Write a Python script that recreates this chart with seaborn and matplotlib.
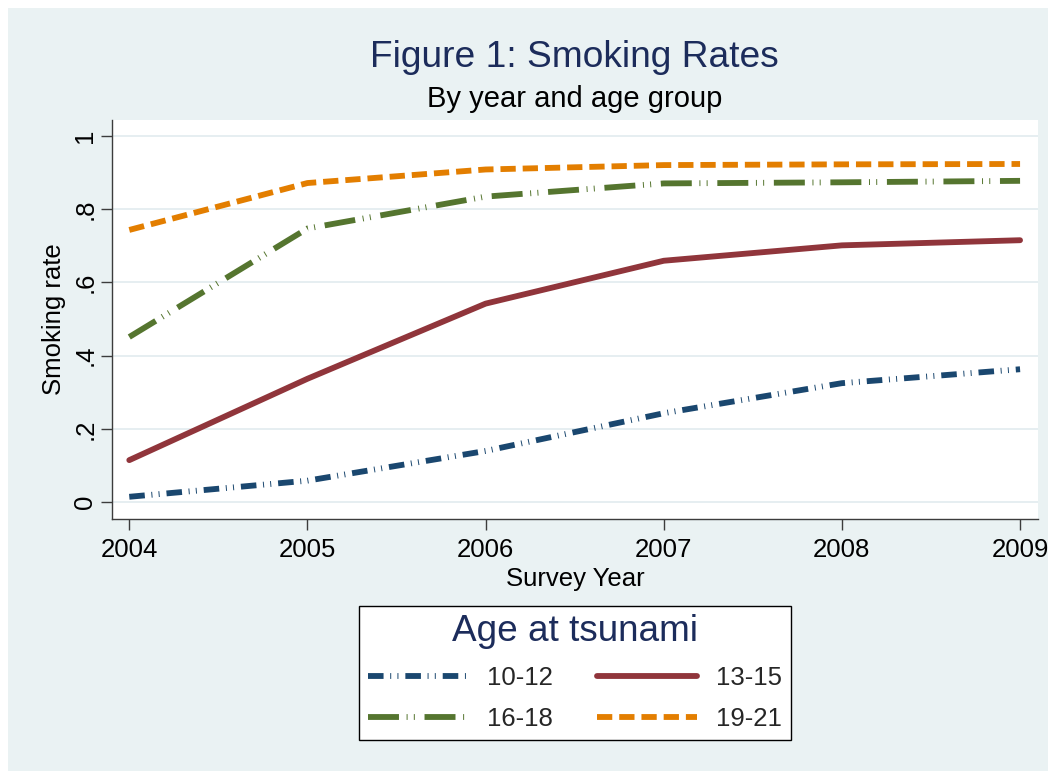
import matplotlib
matplotlib.use("Agg")
import matplotlib.pyplot as plt
import pandas as pd
import seaborn as sns
from matplotlib.patches import Rectangle

# ---- data -------------------------------------------------------------
years = [2004, 2005, 2006, 2007, 2008, 2009]
age_groups = ["10-12", "13-15", "16-18", "19-21"]
rate_10_12 = [0.015, 0.059, 0.140, 0.243, 0.325, 0.363]
rate_13_15 = [0.115, 0.337, 0.542, 0.659, 0.701, 0.715]
rate_16_18 = [0.451, 0.747, 0.834, 0.870, 0.873, 0.877]
rate_19_21 = [0.743, 0.871, 0.908, 0.920, 0.922, 0.923]
ytick_values = [0, 0.2, 0.4, 0.6, 0.8, 1.0]
ytick_labels = ["0", ".2", ".4", ".6", ".8", "1"]

# ---- styling ----------------------------------------------------------
BG = "#EAF2F3"
GRID = "#E6EEF1"
AXIS = "#3C3C3C"
TITLE_NAVY = "#1C2C5B"
palette = {"10-12": "#1A476F", "13-15": "#90353B",
           "16-18": "#55752F", "19-21": "#E37E00"}
# dash sequences in points
dashes = {"10-12": (11.2, 4.8, 0.7, 4.5, 0.7, 5.0),
          "13-15": "",
          "16-18": (22.3, 5.5, 0.7, 4.5, 0.7, 7.0),
          "19-21": (11.0, 5.0)}

sns.set_theme(style="white")
plt.rcParams["font.family"] = ["Liberation Sans", "DejaVu Sans"]
plt.rcParams["lines.scale_dashes"] = False

df = pd.DataFrame({
    "year": years * 4,
    "rate": rate_10_12 + rate_13_15 + rate_16_18 + rate_19_21,
    "age": [g for g in age_groups for _ in years],
})

W, H = 1048, 771
fig = plt.figure(figsize=(W / 100, H / 100), dpi=100)
fig.patch.set_facecolor("white")
fig.patches.append(Rectangle((8 / W, 0), 1 - 8 / W, 1 - 8 / H,
                             transform=fig.transFigure, facecolor=BG,
                             edgecolor="none", zorder=-10))

left, right, top, bottom = 112, 1037.7, 120, 519
ax = fig.add_axes([left / W, 1 - bottom / H, (right - left) / W, (bottom - top) / H])
ax.set_facecolor("white")

sns.lineplot(data=df, x="year", y="rate", hue="age", style="age",
             hue_order=age_groups, style_order=age_groups,
             palette=palette, dashes=dashes, linewidth=4.2,
             solid_capstyle="round", errorbar=None, legend=False, ax=ax)

ax.set_xlim(2004 - 0.097, 2009 + 0.099)
ax.set_ylim(-0.0456, 1.043)

ax.set_xticks(years, labels=[str(y) for y in years])
ax.set_yticks(ytick_values, labels=ytick_labels)
for t in ax.get_yticklabels():
    t.set_rotation(90)
    t.set_va("center")
    t.set_ha("right")

ax.tick_params(axis="both", direction="out", length=7.7, width=1.0,
               color=AXIS, labelsize=18.5, labelcolor="black",
               bottom=True, left=True)
ax.tick_params(axis="x", pad=5.8)
ax.tick_params(axis="y", pad=3.0)

ax.set_axisbelow(True)
ax.yaxis.grid(True, color=GRID, linewidth=1.4)
ax.xaxis.grid(False)

for side in ("top", "right"):
    ax.spines[side].set_visible(False)
for side in ("left", "bottom"):
    ax.spines[side].set_color(AXIS)
    ax.spines[side].set_linewidth(1.0)

ax.set_xlabel("Survey Year", fontsize=18.5, color="black")
ax.set_ylabel("Smoking rate", fontsize=18.5, color="black")
ax.xaxis.set_label_coords(0.5, -0.1195)
ax.yaxis.set_label_coords(-0.0498, 0.5)

cx = (left + right) / 2 / W
fig.text(cx, 1 - 66.7 / H, "Figure 1: Smoking Rates", ha="center",
         va="baseline", fontsize=26.7, color=TITLE_NAVY)
fig.text(cx, 1 - 107.3 / H, "By year and age group", ha="center",
         va="baseline", fontsize=21, color="black")

lines = ax.get_lines()[:4]
order = [0, 2, 1, 3]
leg = fig.legend([lines[i] for i in order], [age_groups[i] for i in order],
                 loc="upper center", bbox_to_anchor=(cx, 1 - 605.7 / H),
                 borderaxespad=0, ncol=2, fontsize=18.5,
                 title="Age at tsunami", title_fontsize=26.6,
                 frameon=True, fancybox=False, edgecolor="black",
                 facecolor="white", framealpha=1,
                 handlelength=3.88, handletextpad=0.75, columnspacing=1.72,
                 labelspacing=0.66, borderpad=0.34)
leg.get_title().set_color(TITLE_NAVY)
leg.get_frame().set_linewidth(1.0)

fig.savefig("out.png", dpi=100)
